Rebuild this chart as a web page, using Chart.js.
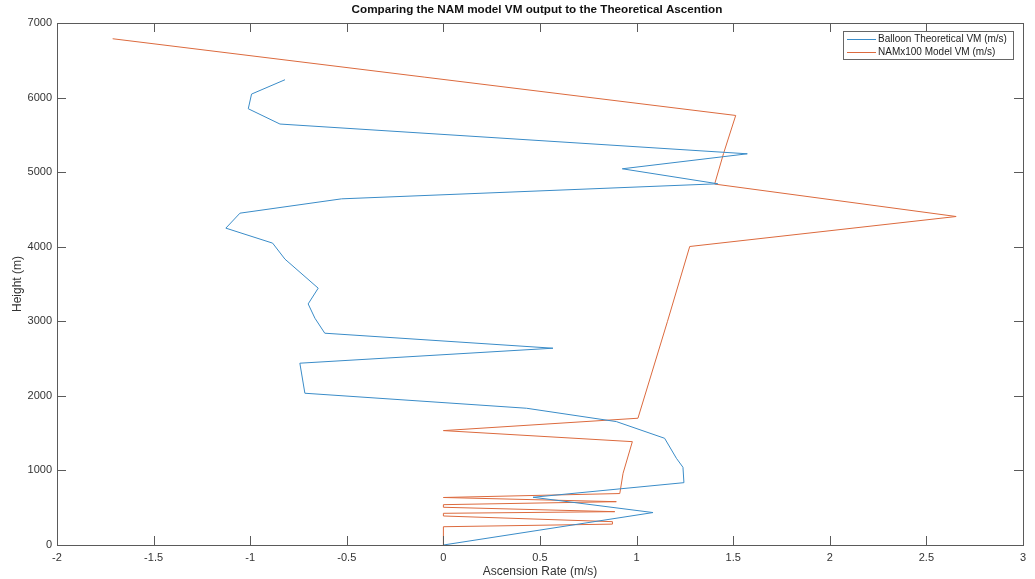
<!DOCTYPE html>
<html>
<head>
<meta charset="utf-8">
<script src="https://cdn.jsdelivr.net/npm/chart.js@4/dist/chart.umd.min.js"></script>
<style>
  html, body { margin: 0; padding: 0; background: #ffffff; }
  #wrap { width: 1035px; height: 579px; position: relative; }
</style>
</head>
<body>
<div id="wrap"><canvas id="c" width="1035" height="579"></canvas></div>
<script>
// ---- Data ----
const chartTitle = 'Comparing the NAM model VM output to the Theoretical Ascention';
const xAxisTitle = 'Ascension Rate (m/s)';
const yAxisTitle = 'Height (m)';
const seriesNames = ['Balloon Theoretical VM (m/s)', 'NAMx100 Model VM (m/s)'];

const balloonRate = [0, 1.085, 0.464, 1.245, 1.24, 1.206, 1.145, 0.895, 0.43, -0.717, -0.743, 0.567, -0.614, -0.665, -0.70, -0.648, -0.82, -0.884, -1.126, -1.053, -0.527, 1.42, 0.926, 1.573, -0.846, -1.01, -0.993, -0.82];
const balloonHeight = [0, 435, 640, 836, 1042, 1163, 1431, 1655, 1834, 2035, 2438, 2639, 2840, 3041, 3233, 3444, 3833, 4048, 4249, 4450, 4642, 4844, 5045, 5246, 5645, 5850, 6047, 6239];

const namRate = [0, 0, 0.875, 0.875, 0, 0, 0.887, 0, 0, 0.895, 0, 0.913, 0.93, 0.978, 0, 1.007, 1.16, 1.275, 2.654, 1.404, 1.45, 1.513, -1.712];
const namHeight = [0, 245, 280, 313, 389, 425, 447, 506, 541, 581, 637, 690, 962, 1386, 1534, 1700, 3000, 4003, 4405, 4840, 5250, 5760, 6789];

const xTickMin = -2, xTickMax = 3, xTickStep = 0.5;
const yTickMin = 0, yTickMax = 7000, yTickStep = 1000;

const colors = ['#3a8cc8', '#dc6a3e'];

function toPoints(xs, ys) { return xs.map((v, i) => ({ x: v, y: ys[i] })); }

const FONT = "'Liberation Sans', Arial, Helvetica, sans-serif";

// Plugin: MATLAB-like frame, inward ticks, title and legend box
const matlabPlugin = {
  id: 'matlabStyle',
  afterDraw(chart) {
    const { ctx, chartArea: a, scales } = chart;
    const xs = scales.x, ys = scales.y;
    ctx.save();
    ctx.strokeStyle = '#5a5a5a';
    ctx.lineWidth = 1;
    // frame
    ctx.strokeRect(Math.round(a.left) + 0.5, Math.round(a.top) + 0.5, Math.round(a.right - a.left), Math.round(a.bottom - a.top));
    // ticks
    const tl = 9;
    ctx.beginPath();
    xs.ticks.forEach(t => {
      const px = Math.round(xs.getPixelForValue(t.value)) + 0.5;
      ctx.moveTo(px, a.bottom); ctx.lineTo(px, a.bottom - tl);
      ctx.moveTo(px, a.top); ctx.lineTo(px, a.top + tl);
    });
    ys.ticks.forEach(t => {
      const py = Math.round(ys.getPixelForValue(t.value)) + 0.5;
      ctx.moveTo(a.left, py); ctx.lineTo(a.left + tl, py);
      ctx.moveTo(a.right, py); ctx.lineTo(a.right - tl, py);
    });
    ctx.stroke();

    // title
    ctx.fillStyle = '#111111';
    ctx.font = 'bold 11.7px ' + FONT;
    ctx.textAlign = 'center';
    ctx.textBaseline = 'middle';
    ctx.fillText(chartTitle, 537, 10);

    // legend
    const bx = 843, by = 31, bw = 170, bh = 28;
    ctx.fillStyle = '#ffffff';
    ctx.fillRect(bx, by, bw, bh);
    ctx.strokeStyle = '#666666';
    ctx.strokeRect(bx + 0.5, by + 0.5, bw, bh);
    ctx.font = '10px ' + FONT;
    ctx.textAlign = 'left';
    chart.data.datasets.forEach((ds, i) => {
      const ly = by + 7.5 + i * 13;
      ctx.strokeStyle = ds.borderColor;
      ctx.lineWidth = 1;
      ctx.beginPath();
      ctx.moveTo(bx + 4, Math.round(ly) + 0.5);
      ctx.lineTo(bx + 33, Math.round(ly) + 0.5);
      ctx.stroke();
      ctx.fillStyle = '#222222';
      ctx.fillText(ds.label, bx + 35, ly + 0.5);
    });
    ctx.restore();
  }
};

new Chart(document.getElementById('c'), {
  type: 'scatter',
  data: {
    datasets: [
      { label: seriesNames[0], data: toPoints(balloonRate, balloonHeight), showLine: true, borderColor: colors[0], backgroundColor: colors[0], borderWidth: 1, pointRadius: 0, tension: 0 },
      { label: seriesNames[1], data: toPoints(namRate, namHeight), showLine: true, borderColor: colors[1], backgroundColor: colors[1], borderWidth: 1, pointRadius: 0, tension: 0 }
    ]
  },
  options: {
    responsive: false,
    animation: false,
    layout: { padding: { top: 23, right: 12, left: 0, bottom: 0 } },
    plugins: {
      legend: { display: false },
      title: { display: false },
      tooltip: { enabled: false }
    },
    scales: {
      x: {
        type: 'linear',
        min: xTickMin, max: xTickMax,
        grid: { display: false, drawTicks: false },
        border: { display: false },
        ticks: {
          stepSize: xTickStep, padding: 6, color: '#333333', maxRotation: 0,
          font: { family: FONT, size: 11 },
          callback: v => String(v)
        },
        title: { display: true, text: xAxisTitle, color: '#333333', font: { family: FONT, size: 12 }, padding: { top: 0, bottom: 0 } },
        afterFit: s => { s.height = 34; }
      },
      y: {
        type: 'linear',
        min: yTickMin, max: yTickMax,
        grid: { display: false, drawTicks: false },
        border: { display: false },
        ticks: {
          stepSize: yTickStep, padding: 5, color: '#333333',
          font: { family: FONT, size: 11 },
          callback: v => String(v)
        },
        title: { display: true, text: yAxisTitle, color: '#333333', font: { family: FONT, size: 12 }, padding: { top: 10, bottom: 0 } },
        afterFit: s => { s.width = 57; }
      }
    }
  },
  plugins: [matlabPlugin]
});
</script>
</body>
</html>
